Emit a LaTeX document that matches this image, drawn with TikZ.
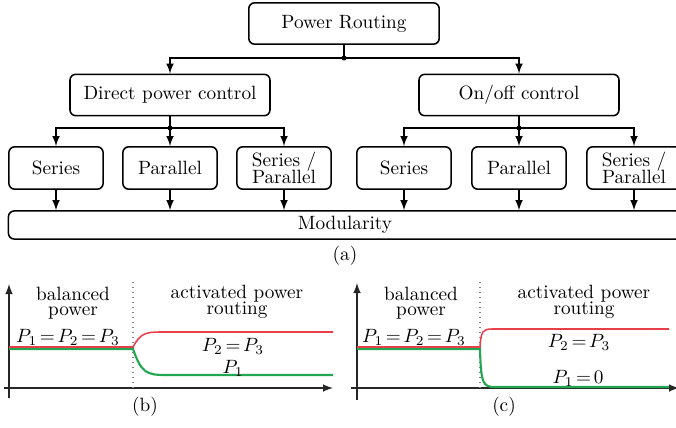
\documentclass[tikz,border=0pt]{standalone}
\usepackage{xcolor}
\usepackage{amsmath}
\usepackage{tikz}
\usetikzlibrary{arrows}
\definecolor{rcol}{RGB}{232,62,72}
\definecolor{gcol}{RGB}{34,166,82}
\tikzstyle{block}=[draw,rounded corners=3pt,line width=0.8pt,align=center,minimum height=21.5pt,inner sep=1pt]
\tikzstyle{leaf}=[block,minimum width=49pt,minimum height=22pt]
\tikzstyle{arr}=[-latex,line width=0.8pt]
\tikzstyle{axis}=[-latex,line width=0.8pt,black!85]
\tikzstyle{eq}=[font={\thickmuskip=2.5mu}]
\newcommand{\junction}[1]{
  \fill (#1) circle (1.3pt);
}

\begin{document}
\begin{tikzpicture}[x=0.52pt,y=-0.52pt]
\useasboundingbox (0,0) rectangle (676,428);

% tree
\node[block,minimum width=99pt] (pr) at (344,23.5) {Power Routing};
\node[block,minimum width=104pt] (dpc) at (170,95) {Direct power control};
\node[block,minimum width=104pt] (onoff) at (519,95) {On/off control};

\node[leaf] (s1) at (56,168) {Series};
\node[leaf] (p1) at (170,168) {Parallel};
\node[leaf] (sp1) at (284,168) {Series /\\[-3pt]Parallel};
\node[leaf] (s2) at (404,168) {Series};
\node[leaf] (p2) at (519,168) {Parallel};
\node[leaf] (sp2) at (634,168) {Series /\\[-3pt]Parallel};

\node[block,minimum width=350pt,minimum height=14.6pt] (mod) at (345,225) {Modularity};
\node (la) at (345,256) {(a)};

\coordinate (j0) at (344,58);
\coordinate (j1) at (170,128);
\coordinate (j2) at (519,128);

\draw[line width=0.8pt] (pr) -- (j0);
\draw[arr] (j0) -| (dpc);
\draw[arr] (j0) -| (onoff);
\junction{j0}

\draw[line width=0.8pt] (dpc) -- (j1);
\draw[arr] (j1) -| (s1);
\draw[arr] (j1) -- (p1);
\draw[arr] (j1) -| (sp1);
\junction{j1}

\draw[line width=0.8pt] (onoff) -- (j2);
\draw[arr] (j2) -| (s2);
\draw[arr] (j2) -- (p2);
\draw[arr] (j2) -| (sp2);
\junction{j2}

\foreach \n in {s1,p1,sp1,s2,p2,sp2}
  \draw[arr] (\n) -- (\n |- mod.north);

% plot (b)
\draw[axis] (4,388) -- (333,388);
\draw[axis] (9,398) -- (9,284);
\draw[dotted,gray,line width=0.6pt] (133,282) -- (133,388);
\draw[gcol,line width=1.1pt] (9,349) -- (133,349)
  .. controls (141,372) and (146,375) .. (165,375) -- (333,375);
\draw[rcol,line width=0.8pt] (9,347) -- (133,347)
  .. controls (140,334) and (145,332) .. (160,332) -- (333,332);
\node[align=center] (bal1) at (73,303) {balanced\\[-4.5pt]power};
\node[align=center] (act1) at (237,302) {activated power\\[-3.8pt]routing};
\node[eq] (eq1) at (68,337) {$P_1=P_2=P_3$};
\node[eq] (eqb1) at (233,346) {$P_2=P_3$};
\node (eqc1) at (233,368) {$P_1$};
\node (lb) at (145,407) {(b)};

% plot (c)
\draw[axis] (351,388) -- (679,388);
\draw[axis] (357,400) -- (357,283);
\draw[dotted,gray,line width=0.6pt] (480,282) -- (480,388);
\draw[gcol,line width=1.1pt] (357,349) -- (480,349)
  .. controls (481,384) and (483,387) .. (495,387) -- (669,387);
\draw[rcol,line width=0.8pt] (357,347) -- (480,347)
  .. controls (481,331) and (483,329) .. (492,329) -- (669,329);
\node[align=center] (bal2) at (421,303) {balanced\\[-4.5pt]power};
\node[align=center] (act2) at (584,302) {activated power\\[-3.8pt]routing};
\node[eq] (eq2) at (414,337) {$P_1=P_2=P_3$};
\node[eq] (eqb2) at (579,342) {$P_2=P_3$};
\node[eq] (eqc2) at (578,378) {$P_1=0$};
\node (lc) at (504,407) {(c)};

\end{tikzpicture}
\end{document}
